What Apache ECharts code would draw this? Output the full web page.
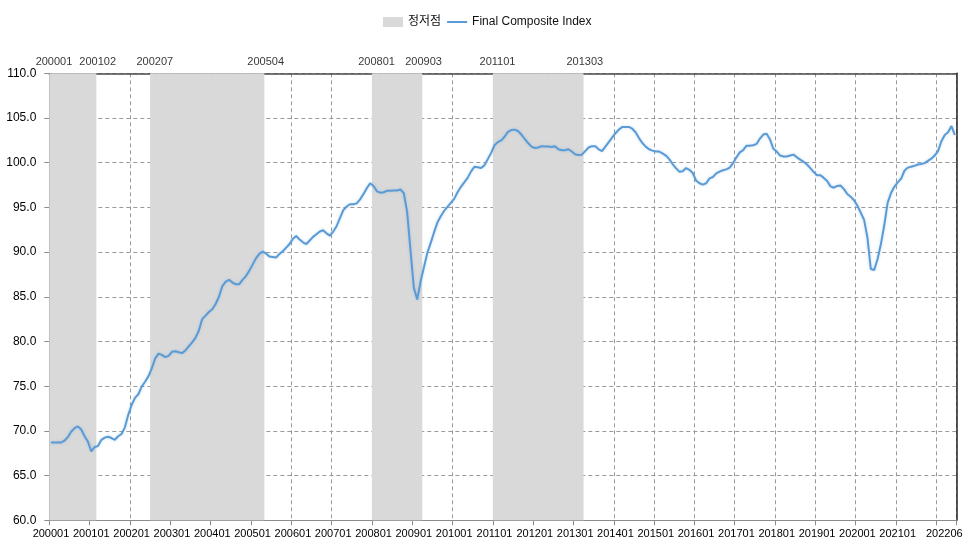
<!DOCTYPE html>
<html>
<head>
<meta charset="utf-8">
<script src="https://cdn.jsdelivr.net/npm/echarts@6/dist/echarts.min.js"></script>
<style>
html,body{margin:0;padding:0;background:#fff;}
#chart{width:967px;height:547px;}
</style>
</head>
<body>
<div id="chart"></div>
<script>
// ---- data ----
const firstYear = 2000;
const monthCount = 270; // 200001 .. 202206
const categories = [];
for (let i = 0; i < monthCount; i++) {
  const y = firstYear + Math.floor(i / 12);
  const m = (i % 12) + 1;
  categories.push(String(y) + (m < 10 ? '0' + m : String(m)));
}

const compositeIndex = [
  // 2000
  68.7, 68.7, 68.7, 68.7, 68.9, 69.3, 69.9, 70.3, 70.5, 70.15, 69.4, 68.8,
  // 2001
  67.7, 68.2, 68.3, 69.0, 69.25, 69.35, 69.2, 69.0, 69.4, 69.65, 70.4, 71.8,
  // 2002
  72.9, 73.7, 74.1, 74.95, 75.5, 76.1, 77.0, 78.1, 78.65, 78.5, 78.25, 78.4,
  // 2003
  78.85, 78.9, 78.8, 78.7, 79.0, 79.45, 79.9, 80.4, 81.2, 82.5, 82.9, 83.3,
  // 2004
  83.6, 84.2, 85.0, 86.2, 86.7, 86.9, 86.6, 86.4, 86.4, 86.9, 87.3, 87.9,
  // 2005
  88.6, 89.3, 89.8, 90.05, 89.85, 89.5, 89.45, 89.4, 89.8, 90.1, 90.5, 90.9,
  // 2006
  91.5, 91.8, 91.4, 91.1, 90.9, 91.3, 91.7, 92.0, 92.3, 92.45, 92.1, 91.85,
  // 2007
  92.3, 92.9, 93.8, 94.7, 95.1, 95.35, 95.35, 95.45, 95.9, 96.5, 97.15, 97.7,
  // 2008
  97.4, 96.8, 96.65, 96.7, 96.85, 96.85, 96.9, 96.9, 97.0, 96.6, 94.5, 90.2,
  // 2009
  86.0, 84.7, 86.7, 88.3, 89.9, 91.0, 92.2, 93.3, 94.0, 94.6, 95.05, 95.5,
  // 2010
  95.95, 96.7, 97.3, 97.8, 98.3, 99.0, 99.55, 99.5, 99.4, 99.7, 100.4, 101.1,
  // 2011
  101.95, 102.3, 102.5, 102.9, 103.45, 103.65, 103.7, 103.55, 103.15, 102.65, 102.2, 101.8,
  // 2012
  101.65, 101.7, 101.85, 101.8, 101.8, 101.75, 101.85, 101.5, 101.4, 101.4, 101.5, 101.25,
  // 2013
  100.95, 100.85, 100.9, 101.3, 101.7, 101.85, 101.85, 101.5, 101.3, 101.8, 102.3, 102.8,
  // 2014
  103.3, 103.7, 104.0, 104.0, 104.0, 103.8, 103.4, 102.75, 102.2, 101.8, 101.5, 101.35,
  // 2015
  101.25, 101.25, 101.05, 100.8, 100.4, 99.85, 99.4, 99.0, 99.05, 99.4, 99.2, 98.85,
  // 2016
  98.0, 97.7, 97.55, 97.7, 98.25, 98.4, 98.8, 99.0, 99.15, 99.25, 99.45, 99.95,
  // 2017
  100.6, 101.15, 101.4, 101.9, 101.9, 101.95, 102.1, 102.7, 103.15, 103.25, 102.6, 101.55,
  // 2018
  101.25, 100.8, 100.7, 100.7, 100.8, 100.9, 100.6, 100.35, 100.1, 99.8, 99.4, 98.95,
  // 2019
  98.6, 98.6, 98.3, 97.95, 97.35, 97.2, 97.4, 97.45, 97.05, 96.5, 96.2, 95.8,
  // 2020
  95.2, 94.4, 93.6, 91.6, 88.1, 88.0, 89.2, 90.9, 93.0, 95.5, 96.6, 97.3,
  // 2021
  97.8, 98.2, 99.1, 99.45, 99.55, 99.65, 99.8, 99.85, 99.95, 100.2, 100.45, 100.8,
  // 2022
  101.3, 102.4, 103.1, 103.4, 104.1, 103.1
];

// reference cycle periods (peak/trough months) shaded in grey
const periods = [
  ['200001', '200102'],
  ['200207', '200504'],
  ['200801', '200903'],
  ['201101', '201303']
];

const yTicks = { min: 60, max: 110, interval: 5 };
const legendNames = ['정저점', 'Final Composite Index'];

// ---- chart ----
const FONT = "'Liberation Sans', Arial, 'Noto Sans CJK KR', sans-serif";
const lastIdx = categories.length - 1;
const isJan = v => v.slice(4) === '01';

const areaData = periods.map(p => [
  { xAxis: categories.indexOf(p[0]) },
  { xAxis: categories.indexOf(p[1]) + 1 }
]);
const periodLabelData = [];
periods.forEach(p => { periodLabelData.push([p[0], yTicks.max]); periodLabelData.push([p[1], yTicks.max]); });

// thin horizontal line icon for the legend (invisible corner points keep its box)
const lineIcon = 'path://M0,0 L0.01,0 M0,4.1 L20,4.1 L20,5.9 L0,5.9 Z M0,10 L0.01,10';

const chart = echarts.init(document.getElementById('chart'), null, { renderer: 'canvas' });
chart.setOption({
  backgroundColor: '#ffffff',
  animation: false,
  textStyle: { fontFamily: FONT },
  legend: {
    data: [
      { name: legendNames[0], icon: 'rect' },
      { name: legendNames[1], icon: lineIcon }
    ],
    left: 378,
    top: 11,
    itemWidth: 20,
    itemHeight: 10,
    itemGap: 6,
    textStyle: { fontFamily: FONT, fontSize: 12, color: '#111' }
  },
  grid: { left: 49.3, right: 10.5, top: 73.3, bottom: 26.7, containLabel: false },
  xAxis: [
    {
      type: 'category',
      data: categories,
      boundaryGap: true,
      position: 'bottom',
      axisLine: { show: true, lineStyle: { color: '#8c8c8c', width: 1 } },
      axisTick: {
        show: true, length: 5, inside: false,
        interval: (i, v) => isJan(v),
        lineStyle: { color: '#8c8c8c' }
      },
      axisLabel: {
        interval: (i, v) => i === lastIdx || (isJan(v) && lastIdx - i >= 12),
        margin: 8,
        fontFamily: FONT,
        fontSize: 11,
        color: '#000',
        formatter: (v) => v === categories[lastIdx] ? '{last|' + v + '}' : v,
        rich: { last: { fontFamily: FONT, fontSize: 11, color: '#000', padding: [0, 21, 0, 0] } }
      },
      splitLine: {
        show: true,
        interval: (i, v) => isJan(v),
        lineStyle: { color: '#9a9a9a', type: [4, 3], width: 1 }
      }
    },
    {
      type: 'value',
      position: 'top',
      min: 0,
      max: monthCount,
      axisLine: { show: true, onZero: false, lineStyle: { color: '#4a4a4a', width: 1.5 } },
      axisTick: { show: false },
      axisLabel: { show: false },
      splitLine: { show: false }
    }
  ],
  yAxis: [
    {
      type: 'value',
      min: yTicks.min,
      max: yTicks.max,
      interval: yTicks.interval,
      axisLine: { show: true, lineStyle: { color: '#8c8c8c' } },
      axisTick: { show: true, length: 5, lineStyle: { color: '#8c8c8c' } },
      axisLabel: {
        margin: 13,
        fontFamily: FONT,
        fontSize: 12,
        color: '#000',
        formatter: v => v.toFixed(1)
      },
      splitLine: { show: true, lineStyle: { color: '#9a9a9a', type: [4, 3], width: 1 } }
    },
    {
      type: 'value',
      position: 'right',
      min: yTicks.min,
      max: yTicks.max,
      axisLine: { show: true, lineStyle: { color: '#222', width: 1.5 } },
      axisTick: { show: false },
      axisLabel: { show: false },
      splitLine: { show: false }
    }
  ],
  series: [
    {
      name: legendNames[0],
      type: 'line',
      xAxisIndex: 1,
      yAxisIndex: 0,
      data: [],
      color: '#d9d9d9',
      itemStyle: { color: '#d9d9d9' },
      lineStyle: { color: '#d9d9d9' },
      z: 1,
      markArea: {
        silent: true,
        itemStyle: { color: '#d9d9d9', opacity: 1 },
        label: { show: false },
        data: areaData
      }
    },
    {
      name: legendNames[1],
      type: 'line',
      xAxisIndex: 0,
      yAxisIndex: 0,
      data: compositeIndex,
      symbol: 'none',
      showSymbol: false,
      color: '#5b9bd5',
      itemStyle: { color: '#5b9bd5' },
      lineStyle: {
        color: '#5b9bd5', width: 2,
        shadowColor: 'rgba(91,155,213,0.35)', shadowBlur: 3
      },
      z: 4
    },
    {
      name: 'periodLabels',
      type: 'scatter',
      xAxisIndex: 0,
      yAxisIndex: 0,
      data: periodLabelData,
      symbolSize: 0.01,
      itemStyle: { color: 'rgba(0,0,0,0)' },
      silent: true,
      clip: false,
      z: 5,
      label: {
        show: true,
        position: 'top',
        distance: 6,
        offset: [3, 0],
        fontFamily: FONT,
        fontSize: 11,
        color: '#000',
        formatter: p => p.value[0]
      }
    }
  ]
});
</script>
</body>
</html>
